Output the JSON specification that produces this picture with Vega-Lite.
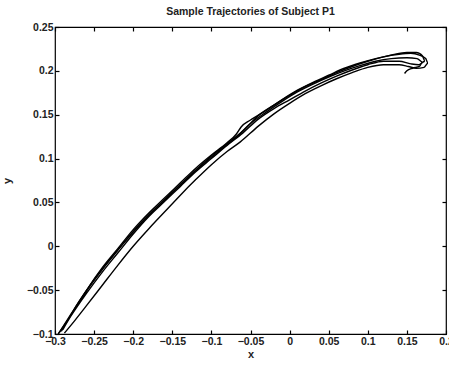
{
  "$schema": "https://vega.github.io/schema/vega-lite/v6.json",
  "width": 391,
  "height": 307,
  "autosize": {"type": "none"},
  "padding": {"left": 55, "top": 27, "right": 3, "bottom": 31},
  "background": "white",
  "title": {"text": "Sample Trajectories of Subject P1", "font": "Liberation Sans", "fontSize": 10.5, "fontWeight": "bold", "color": "#222", "offset": 5},
  "config": {
    "view": {"stroke": "black", "strokeWidth": 1.2},
    "axis": {"labelFont": "Liberation Sans", "labelFontSize": 10.5, "labelFontWeight": "bold", "labelColor": "#222", "titleFont": "Liberation Sans", "titleFontSize": 11, "titleFontWeight": "bold", "titleColor": "#222", "grid": false, "domain": false, "tickColor": "black", "tickSize": -4, "tickWidth": 1.2, "format": ".2~f"}
  },
  "data": {"values": [
    {"t":1,"i":1,"x":-0.295,"y":-0.099},{"t":1,"i":2,"x":-0.28,"y":-0.078},{"t":1,"i":3,"x":-0.26,"y":-0.051},{"t":1,"i":4,"x":-0.24,"y":-0.027},{"t":1,"i":5,"x":-0.22,"y":-0.005},{"t":1,"i":6,"x":-0.2,"y":0.017},{"t":1,"i":7,"x":-0.18,"y":0.036},{"t":1,"i":8,"x":-0.16,"y":0.053},{"t":1,"i":9,"x":-0.14,"y":0.07},{"t":1,"i":10,"x":-0.12,"y":0.087},{"t":1,"i":11,"x":-0.1,"y":0.103},{"t":1,"i":12,"x":-0.08,"y":0.117},{"t":1,"i":13,"x":-0.06,"y":0.131},{"t":1,"i":14,"x":-0.04,"y":0.149},{"t":1,"i":15,"x":-0.02,"y":0.161},{"t":1,"i":16,"x":0,"y":0.172},{"t":1,"i":17,"x":0.02,"y":0.182},{"t":1,"i":18,"x":0.04,"y":0.19},{"t":1,"i":19,"x":0.06,"y":0.198},{"t":1,"i":20,"x":0.08,"y":0.205},{"t":1,"i":21,"x":0.1,"y":0.211},{"t":1,"i":22,"x":0.12,"y":0.216},{"t":1,"i":23,"x":0.14,"y":0.219},{"t":1,"i":24,"x":0.155,"y":0.22},{"t":1,"i":25,"x":0.166,"y":0.218},{"t":1,"i":26,"x":0.174,"y":0.214},{"t":1,"i":27,"x":0.177,"y":0.209},{"t":1,"i":28,"x":0.172,"y":0.204},{"t":1,"i":29,"x":0.162,"y":0.203},{"t":1,"i":30,"x":0.152,"y":0.205},{"t":1,"i":31,"x":0.14,"y":0.207},{"t":1,"i":32,"x":0.12,"y":0.207},{"t":1,"i":33,"x":0.1,"y":0.204},{"t":1,"i":34,"x":0.08,"y":0.198},{"t":1,"i":35,"x":0.06,"y":0.191},{"t":1,"i":36,"x":0.04,"y":0.183},{"t":1,"i":37,"x":0.02,"y":0.174},{"t":1,"i":38,"x":0,"y":0.163},{"t":1,"i":39,"x":-0.02,"y":0.151},{"t":1,"i":40,"x":-0.04,"y":0.137},{"t":1,"i":41,"x":-0.063,"y":0.119},{"t":1,"i":42,"x":-0.08,"y":0.108},{"t":1,"i":43,"x":-0.1,"y":0.093},{"t":1,"i":44,"x":-0.12,"y":0.076},{"t":1,"i":45,"x":-0.14,"y":0.058},{"t":1,"i":46,"x":-0.16,"y":0.039},{"t":1,"i":47,"x":-0.18,"y":0.02},{"t":1,"i":48,"x":-0.2,"y":0.0},{"t":1,"i":49,"x":-0.22,"y":-0.022},{"t":1,"i":50,"x":-0.24,"y":-0.045},{"t":1,"i":51,"x":-0.26,"y":-0.068},{"t":1,"i":52,"x":-0.275,"y":-0.085},{"t":1,"i":53,"x":-0.288,"y":-0.099},
    {"t":2,"i":1,"x":-0.29,"y":-0.095},{"t":2,"i":2,"x":-0.28,"y":-0.08},{"t":2,"i":3,"x":-0.27,"y":-0.066},{"t":2,"i":4,"x":-0.255,"y":-0.044},{"t":2,"i":5,"x":-0.24,"y":-0.025},{"t":2,"i":6,"x":-0.22,"y":-0.003},{"t":2,"i":7,"x":-0.2,"y":0.019},{"t":2,"i":8,"x":-0.18,"y":0.038},{"t":2,"i":9,"x":-0.16,"y":0.055},{"t":2,"i":10,"x":-0.14,"y":0.072},{"t":2,"i":11,"x":-0.12,"y":0.089},{"t":2,"i":12,"x":-0.1,"y":0.104},{"t":2,"i":13,"x":-0.08,"y":0.118},{"t":2,"i":14,"x":-0.068,"y":0.128},{"t":2,"i":15,"x":-0.062,"y":0.136},{"t":2,"i":16,"x":-0.05,"y":0.144},{"t":2,"i":17,"x":-0.03,"y":0.155},{"t":2,"i":18,"x":-0.01,"y":0.167},{"t":2,"i":19,"x":0.01,"y":0.178},{"t":2,"i":20,"x":0.03,"y":0.187},{"t":2,"i":21,"x":0.05,"y":0.195},{"t":2,"i":22,"x":0.07,"y":0.203},{"t":2,"i":23,"x":0.09,"y":0.209},{"t":2,"i":24,"x":0.11,"y":0.214},{"t":2,"i":25,"x":0.13,"y":0.218},{"t":2,"i":26,"x":0.15,"y":0.221},{"t":2,"i":27,"x":0.162,"y":0.221},{"t":2,"i":28,"x":0.17,"y":0.217},{"t":2,"i":29,"x":0.173,"y":0.211},{"t":2,"i":30,"x":0.165,"y":0.207},{"t":2,"i":31,"x":0.155,"y":0.208},{"t":2,"i":32,"x":0.14,"y":0.211},{"t":2,"i":33,"x":0.12,"y":0.211},{"t":2,"i":34,"x":0.1,"y":0.207},{"t":2,"i":35,"x":0.08,"y":0.201},{"t":2,"i":36,"x":0.06,"y":0.194},{"t":2,"i":37,"x":0.04,"y":0.186},{"t":2,"i":38,"x":0.02,"y":0.177},{"t":2,"i":39,"x":0,"y":0.167},{"t":2,"i":40,"x":-0.02,"y":0.157},{"t":2,"i":41,"x":-0.04,"y":0.145},{"t":2,"i":42,"x":-0.06,"y":0.129},{"t":2,"i":43,"x":-0.08,"y":0.115},{"t":2,"i":44,"x":-0.1,"y":0.1},{"t":2,"i":45,"x":-0.12,"y":0.085},{"t":2,"i":46,"x":-0.14,"y":0.068},{"t":2,"i":47,"x":-0.16,"y":0.051},{"t":2,"i":48,"x":-0.18,"y":0.034},{"t":2,"i":49,"x":-0.2,"y":0.014},{"t":2,"i":50,"x":-0.22,"y":-0.008},{"t":2,"i":51,"x":-0.24,"y":-0.03},{"t":2,"i":52,"x":-0.26,"y":-0.054},{"t":2,"i":53,"x":-0.28,"y":-0.08},{"t":2,"i":54,"x":-0.292,"y":-0.097},
    {"t":3,"i":1,"x":-0.296,"y":-0.1},{"t":3,"i":2,"x":-0.285,"y":-0.086},{"t":3,"i":3,"x":-0.27,"y":-0.064},{"t":3,"i":4,"x":-0.25,"y":-0.038},{"t":3,"i":5,"x":-0.23,"y":-0.015},{"t":3,"i":6,"x":-0.21,"y":0.006},{"t":3,"i":7,"x":-0.19,"y":0.026},{"t":3,"i":8,"x":-0.17,"y":0.044},{"t":3,"i":9,"x":-0.15,"y":0.061},{"t":3,"i":10,"x":-0.13,"y":0.078},{"t":3,"i":11,"x":-0.11,"y":0.094},{"t":3,"i":12,"x":-0.09,"y":0.109},{"t":3,"i":13,"x":-0.07,"y":0.123},{"t":3,"i":14,"x":-0.05,"y":0.14},{"t":3,"i":15,"x":-0.03,"y":0.153},{"t":3,"i":16,"x":-0.01,"y":0.165},{"t":3,"i":17,"x":0.01,"y":0.176},{"t":3,"i":18,"x":0.03,"y":0.185},{"t":3,"i":19,"x":0.05,"y":0.193},{"t":3,"i":20,"x":0.07,"y":0.2},{"t":3,"i":21,"x":0.09,"y":0.206},{"t":3,"i":22,"x":0.11,"y":0.211},{"t":3,"i":23,"x":0.13,"y":0.214},{"t":3,"i":24,"x":0.15,"y":0.215},{"t":3,"i":25,"x":0.163,"y":0.214},{"t":3,"i":26,"x":0.17,"y":0.21},{"t":3,"i":27,"x":0.166,"y":0.205},{"t":3,"i":28,"x":0.157,"y":0.203},{"t":3,"i":29,"x":0.15,"y":0.2},{"t":3,"i":30,"x":0.147,"y":0.197}
  ]},
  "layer": [
    {
      "mark": {"type": "line", "color": "black", "strokeWidth": 1.4, "interpolate": "monotone"},
      "encoding": {
        "x": {"field": "x", "type": "quantitative", "scale": {"domain": [-0.3, 0.2], "nice": false, "zero": false}, "axis": {"title": "x", "values": [-0.3,-0.25,-0.2,-0.15,-0.1,-0.05,0,0.05,0.1,0.15,0.2], "labelPadding": 6, "titlePadding": 2, "labelFlush": false}},
        "y": {"field": "y", "type": "quantitative", "scale": {"domain": [-0.1, 0.25], "nice": false, "zero": false}, "axis": {"title": "y", "values": [-0.1,-0.05,0,0.05,0.1,0.15,0.2,0.25], "labelPadding": 6, "titlePadding": 14, "labelFlush": false}},
        "detail": {"field": "t"},
        "order": {"field": "i"}
      }
    },
    {
      "mark": {"type": "line", "opacity": 0},
      "encoding": {
        "x": {"field": "x", "type": "quantitative", "scale": {"domain": [-0.3, 0.2], "nice": false, "zero": false}, "axis": {"orient": "top", "title": null, "labels": false, "values": [-0.3,-0.25,-0.2,-0.15,-0.1,-0.05,0,0.05,0.1,0.15,0.2]}},
        "y": {"field": "y", "type": "quantitative", "scale": {"domain": [-0.1, 0.25], "nice": false, "zero": false}, "axis": {"orient": "right", "title": null, "labels": false, "values": [-0.1,-0.05,0,0.05,0.1,0.15,0.2,0.25]}},
        "detail": {"field": "t"},
        "order": {"field": "i"}
      }
    }
  ],
  "resolve": {"axis": {"x": "independent", "y": "independent"}}
}
